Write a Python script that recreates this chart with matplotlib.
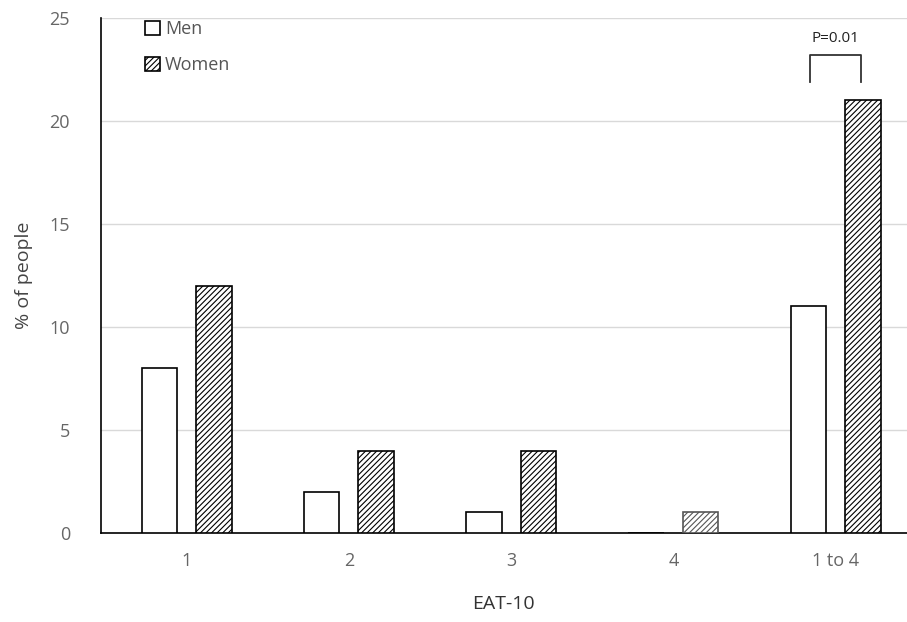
import numpy as np
import matplotlib.pyplot as plt

plt.rcParams['font.family'] = ['Open Sans', 'DejaVu Sans']
plt.rcParams['hatch.linewidth'] = 0.8

categories = ['1', '2', '3', '4', '1 to 4']
men = [8, 2, 1, 0, 11]
women = [12, 4, 4, 1, 21]

fig = plt.figure(figsize=(9.07, 6.22), dpi=100)
ax = fig.add_axes([0.111, 0.143, 0.889, 0.828])

x = np.arange(len(categories))
w = 0.22
off = 0.168

ax.bar(x - off, men, w, color='white', edgecolor='black', linewidth=1.2, label='Men', zorder=3)
wb = ax.bar(x + off, women, w, color='white', edgecolor='black', linewidth=1.2,
            hatch='//////', label='Women', zorder=3)
# the lone bar at "4" looks greyer in the original
wb[3].set_edgecolor('#555555')

ax.set_xlim(-0.53, 4.44)
ax.set_ylim(0, 25)
ax.set_yticks([0, 5, 10, 15, 20, 25])
ax.set_xticks(x)
ax.set_xticklabels(categories)
ax.yaxis.grid(True, color='#d9d9d9', linewidth=1.0, zorder=0)
ax.set_axisbelow(True)

for s in ['top', 'right']:
    ax.spines[s].set_visible(False)
ax.spines['left'].set_linewidth(1.2)
ax.spines['bottom'].set_linewidth(1.2)
ax.tick_params(axis='both', length=0, labelsize=13, colors='#666666', pad=14)
ax.tick_params(axis='y', pad=22)

ax.set_ylabel('% of people', fontsize=14, color='#444444', labelpad=12)
ax.set_xlabel('EAT-10', fontsize=14, color='#333333', labelpad=18)

leg = ax.legend(loc='upper left', bbox_to_anchor=(0.035, 1.027), frameon=False,
                fontsize=13, handlelength=0.8, handleheight=0.8, handletextpad=0.3,
                labelspacing=1.0, labelcolor='#555555')

# significance bracket over the "1 to 4" group
x0, x1 = x[4] - 0.155, x[4] + 0.155
yb, yt = 21.9, 23.2
ax.plot([x0, x0, x1, x1], [yb, yt, yt, yb], color='#333333', linewidth=1.3, zorder=4)
ax.text(x[4], yt + 0.45, 'P=0.01', ha='center', va='bottom', fontsize=11, color='#222222')

fig.savefig('out.png', dpi=100)
